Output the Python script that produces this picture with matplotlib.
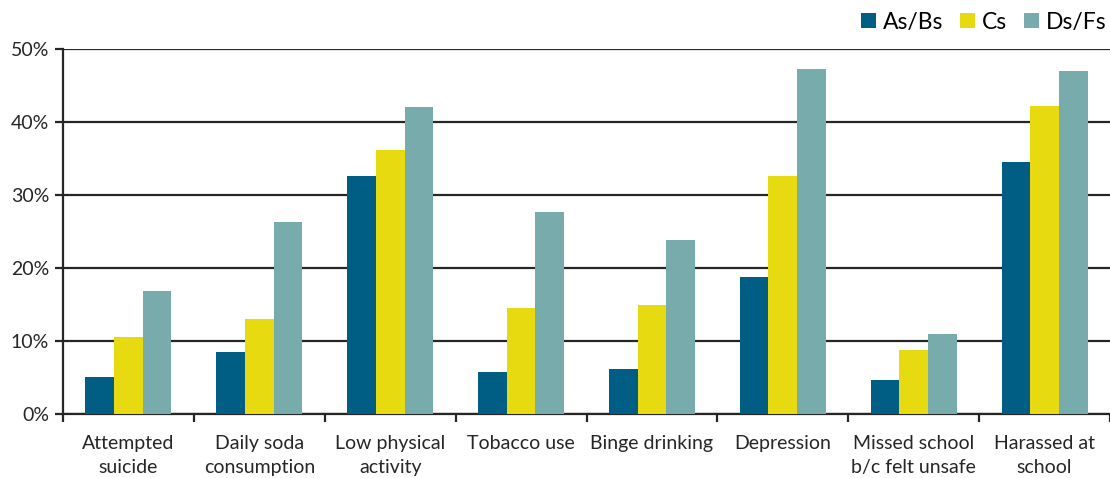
import numpy as np
import matplotlib
matplotlib.use('Agg')
import matplotlib.pyplot as plt
from matplotlib.ticker import FuncFormatter

plt.rcParams['font.family'] = ['Lato', 'DejaVu Sans']

categories = ['Attempted\nsuicide', 'Daily soda\nconsumption', 'Low physical\nactivity',
              'Tobacco use', 'Binge drinking', 'Depression',
              'Missed school\nb/c felt unsafe', 'Harassed at\nschool']
as_bs = [5.1, 8.5, 32.6, 5.8, 6.1, 18.8, 4.6, 34.5]
cs = [10.5, 13.0, 36.1, 14.5, 14.9, 32.6, 8.8, 42.2]
ds_fs = [16.8, 26.3, 42.0, 27.7, 23.8, 47.3, 10.9, 47.0]
series = [('As/Bs', as_bs, '#005E84'), ('Cs', cs, '#E8DA10'), ('Ds/Fs', ds_fs, '#78ACAC')]

fig = plt.figure(figsize=(11.1, 4.78), dpi=100)
ax = fig.add_axes([0.0568, 0.134, 0.9432, 0.7635])

x = np.arange(len(categories))
w = 0.219
for i, (name, vals, col) in enumerate(series):
    ax.bar(x + (i - 1) * w, vals, w, color=col, label=name, zorder=3)

ax.set_ylim(0, 50)
ax.set_xlim(-0.5, len(categories) - 0.5)
ax.set_yticks(range(0, 51, 10))
ax.yaxis.set_major_formatter(FuncFormatter(lambda v, p: '%d%%' % v))
ax.yaxis.grid(True, color='#262626', linewidth=1.6, zorder=0)
ax.set_axisbelow(True)

ax.set_xticks(x)
ax.set_xticklabels(categories, linespacing=1.5)
ax.set_xticks(np.arange(-0.5, len(categories), 1), minor=True)
ax.tick_params(axis='x', which='major', length=0, pad=15, labelsize=14, colors='#262626')
ax.tick_params(axis='x', which='minor', length=6, width=1.6, color='#262626')
ax.tick_params(axis='y', length=6, width=1.6, color='#262626', labelsize=14, labelcolor='#262626', pad=4)

for s in ['top', 'right']:
    ax.spines[s].set_visible(False)
for s in ['left', 'bottom']:
    ax.spines[s].set_color('#262626')
    ax.spines[s].set_linewidth(1.6)

ax.legend(loc='lower right', bbox_to_anchor=(0.997, 1.045), ncol=3, frameon=False,
          fontsize=16.5, handlelength=0.65, handleheight=0.65, handletextpad=0.3,
          columnspacing=0.75, borderaxespad=0, borderpad=0)

fig.savefig('out.png', dpi=100)
